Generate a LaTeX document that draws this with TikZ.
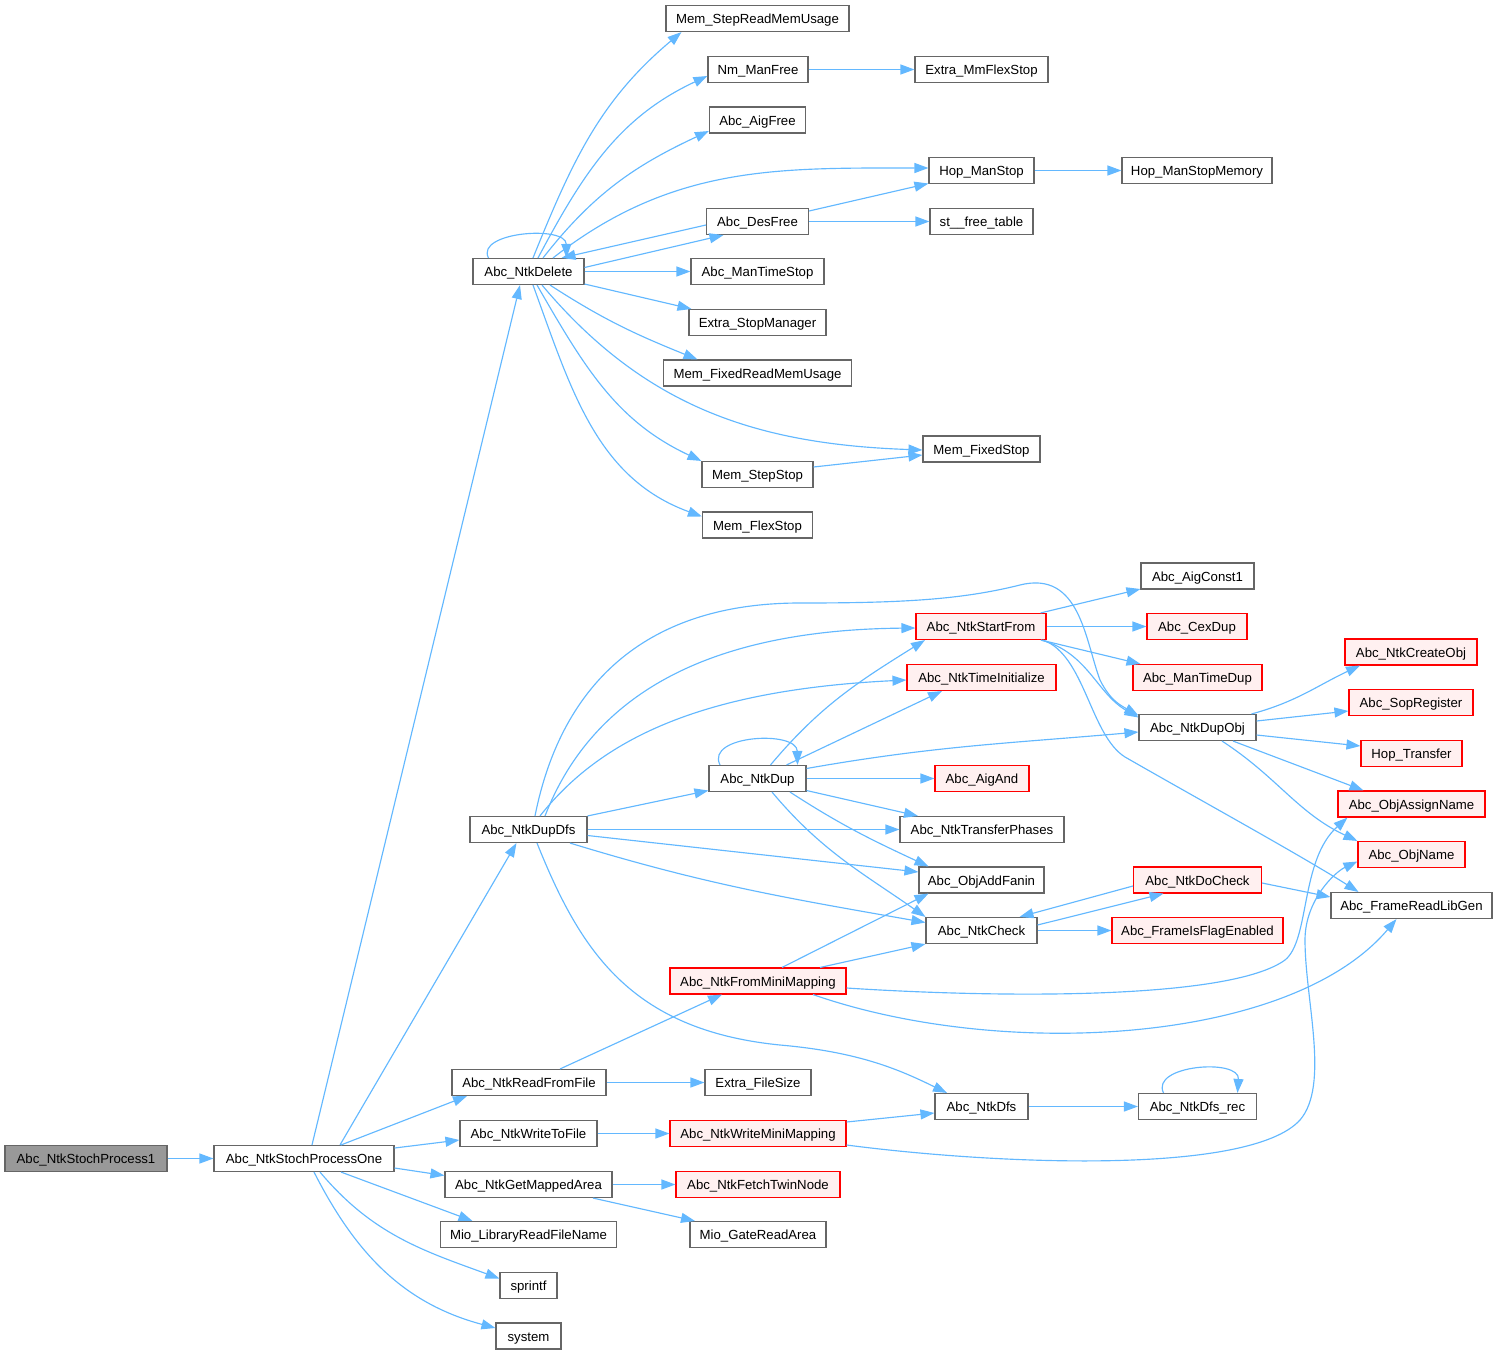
\documentclass[tikz,border=0pt]{standalone}
\usepackage{fontspec}
\setmainfont{Liberation Sans}
\usetikzlibrary{arrows.meta}
\definecolor{edgeblue}{HTML}{63B8FF}
\definecolor{nodegray}{HTML}{666666}
\definecolor{rootfill}{HTML}{999999}
\definecolor{redfill}{HTML}{FFF0F0}
\tikzset{
  nb/.style={draw=nodegray, fill=white, line width=1.1pt, rectangle, minimum height=26pt, inner sep=0pt,
    text height=10pt, text depth=0pt, font=\fontsize{13.2}{15}\selectfont},
  nr/.style={nb, draw=red, fill=redfill},
  nroot/.style={nb, fill=rootfill},
  e/.style={draw=edgeblue, line width=1.15pt, -{Triangle[length=14pt,width=10pt]}, edgeblue},
}
\begin{document}
\begin{tikzpicture}[x=1pt,y=1pt]
\useasboundingbox (0,0) rectangle (1497,-1355);
% ---------- upper group ----------
\node[nb, minimum width=183pt] (MSRMU) at (757.5,-18.5) {Mem\_StepReadMemUsage};
\node[nb, minimum width=100pt] (NmManFree) at (758,-69.5) {Nm\_ManFree};
\node[nb, minimum width=133pt] (MmFlexStop) at (981.5,-69.5) {Extra\_MmFlexStop};
\node[nb, minimum width=96pt] (AigFree) at (757.5,-120) {Abc\_AigFree};
\node[nb, minimum width=105pt] (HopManStop) at (981.5,-170.5) {Hop\_ManStop};
\node[nb, minimum width=150pt] (HopManStopMem) at (1197,-170.5) {Hop\_ManStopMemory};
\node[nb, minimum width=102pt] (DesFree) at (757.5,-221.5) {Abc\_DesFree};
\node[nb, minimum width=103pt] (stFree) at (981.5,-221.5) {st\_\_free\_table};
\node[nb, minimum width=111pt] (Delete) at (528.5,-271.5) {Abc\_NtkDelete};
\node[nb, minimum width=133pt] (ManTimeStop) at (757.5,-271.5) {Abc\_ManTimeStop};
\node[nb, minimum width=137pt] (StopManager) at (757.5,-322.5) {Extra\_StopManager};
\node[nb, minimum width=188pt] (MFRMU) at (757.5,-373) {Mem\_FixedReadMemUsage};
\node[nb, minimum width=117pt] (FixedStop) at (981.5,-449) {Mem\_FixedStop};
\node[nb, minimum width=111pt] (StepStop) at (757.5,-474.5) {Mem\_StepStop};
\node[nb, minimum width=110pt] (FlexStop) at (757.5,-525) {Mem\_FlexStop};
% ---------- lower group ----------
\node[nroot, minimum width=162pt] (Root) at (86,-1158.5) {Abc\_NtkStochProcess1};
\node[nb, minimum width=180pt] (SPOne) at (304,-1158.5) {Abc\_NtkStochProcessOne};
\node[nb, minimum width=154pt] (ReadFromFile) at (529,-1082.5) {Abc\_NtkReadFromFile};
\node[nb, minimum width=106pt] (FileSize) at (758,-1082.5) {Extra\_FileSize};
\node[nb, minimum width=137pt] (WriteToFile) at (528.5,-1133.5) {Abc\_NtkWriteToFile};
\node[nr, minimum width=176pt] (WMM) at (758,-1133.5) {Abc\_NtkWriteMiniMapping};
\node[nb, minimum width=167pt] (GetMappedArea) at (528.5,-1184.5) {Abc\_NtkGetMappedArea};
\node[nr, minimum width=164pt] (FetchTwin) at (758,-1184.5) {Abc\_NtkFetchTwinNode};
\node[nb, minimum width=176pt] (MioLib) at (528.5,-1234.5) {Mio\_LibraryReadFileName};
\node[nb, minimum width=136pt] (MioGate) at (758,-1234.5) {Mio\_GateReadArea};
\node[nb, minimum width=57pt] (sprintf) at (528.5,-1285.5) {sprintf};
\node[nb, minimum width=65pt] (system) at (528.5,-1336) {system};
\node[nb, minimum width=117pt] (DupDfs) at (528.5,-829.5) {Abc\_NtkDupDfs};
\node[nb, minimum width=97pt] (NtkDup) at (757.5,-778.5) {Abc\_NtkDup};
\node[nr, minimum width=130pt] (StartFrom) at (981,-626.5) {Abc\_NtkStartFrom};
\node[nr, minimum width=149pt] (TimeInit) at (981.5,-677.5) {Abc\_NtkTimeInitialize};
\node[nr, minimum width=94pt] (AigAnd) at (982,-778.5) {Abc\_AigAnd};
\node[nb, minimum width=164pt] (TransferPhases) at (982,-829.5) {Abc\_NtkTransferPhases};
\node[nb, minimum width=125pt] (ObjAddFanin) at (981.5,-880) {Abc\_ObjAddFanin};
\node[nb, minimum width=111pt] (NtkCheck) at (981.5,-930.5) {Abc\_NtkCheck};
\node[nr, minimum width=176pt] (FromMini) at (758,-981) {Abc\_NtkFromMiniMapping};
\node[nb, minimum width=93pt] (NtkDfs) at (981.5,-1106.5) {Abc\_NtkDfs};
\node[nb, minimum width=118pt] (DfsRec) at (1197.5,-1106.5) {Abc\_NtkDfs\_rec};
\node[nb, minimum width=113pt] (AigConst1) at (1197.5,-576) {Abc\_AigConst1};
\node[nr, minimum width=100pt] (CexDup) at (1197,-626.5) {Abc\_CexDup};
\node[nr, minimum width=129pt] (ManTimeDup) at (1197.5,-677.5) {Abc\_ManTimeDup};
\node[nb, minimum width=117pt] (DupObj) at (1197.5,-727.5) {Abc\_NtkDupObj};
\node[nr, minimum width=128pt] (DoCheck) at (1197.5,-880) {Abc\_NtkDoCheck};
\node[nr, minimum width=171pt] (FlagEnabled) at (1197.5,-930.5) {Abc\_FrameIsFlagEnabled};
\node[nr, minimum width=132pt] (CreateObj) at (1411,-652) {Abc\_NtkCreateObj};
\node[nr, minimum width=124pt] (SopRegister) at (1411,-702.5) {Abc\_SopRegister};
\node[nr, minimum width=101pt] (HopTransfer) at (1411.5,-753.5) {Hop\_Transfer};
\node[nr, minimum width=147pt] (ObjAssignName) at (1411.5,-804) {Abc\_ObjAssignName};
\node[nr, minimum width=107pt] (ObjName) at (1411.5,-854.5) {Abc\_ObjName};
\node[nb, minimum width=161pt] (ReadLibGen) at (1411.5,-905.5) {Abc\_FrameReadLibGen};
% ---------- edges: lower group ----------
\draw[e] (Root.east) -- (SPOne.west);
\draw[e] ([xshift=8pt]SPOne.north) -- ([xshift=-8.5pt]Delete.south);
\draw[e] ([xshift=36pt]SPOne.north) -- ([xshift=-12pt]DupDfs.south);
\draw[e] ([xshift=37pt]SPOne.north) -- ([xshift=-62pt]ReadFromFile.south);
\draw[e] ([yshift=10.5pt]SPOne.east) -- ([yshift=-6.5pt]WriteToFile.west);
\draw[e] ([yshift=-9.5pt]SPOne.east) -- ([yshift=9pt]GetMappedArea.west);
\draw[e] ([xshift=37pt]SPOne.south) -- ([xshift=-56pt]MioLib.north);
\draw[e] ([xshift=16pt]SPOne.south) to[out=-50,in=160] ([yshift=7pt]sprintf.west);
\draw[e] ([xshift=10pt]SPOne.south) to[out=-63,in=165] ([yshift=8pt]system.west);
\draw[e] (ReadFromFile.east) -- (FileSize.west);
\draw[e] ([xshift=31pt]ReadFromFile.north) -- ([xshift=-36pt]FromMini.south);
\draw[e] (WriteToFile.east) -- (WMM.west);
\draw[e] (GetMappedArea.east) -- (FetchTwin.west);
\draw[e] ([xshift=64.5pt]GetMappedArea.south) -- ([xshift=-63pt]MioGate.north);
\draw[e] ([yshift=11.5pt]WMM.east) -- ([yshift=-6.5pt]NtkDfs.west);
\draw[e] ([yshift=-11.5pt]WMM.east) .. controls (1000,-1165) and (1250,-1175) .. (1300,-1120)
  .. controls (1330,-1085) and (1305,-1000) .. (1305,-940)
  .. controls (1305,-900) and (1335,-872) .. ([yshift=-7pt]ObjName.west);
\draw[e] ([xshift=24pt]FromMini.north) -- ([xshift=-53pt]ObjAddFanin.south);
\draw[e] ([xshift=62pt]FromMini.north) -- (NtkCheck.south west);
\draw[e] ([yshift=-7pt]FromMini.east) .. controls (1000,-998) and (1230,-1000) .. (1285,-960)
  .. controls (1310,-940) and (1300,-860) .. ([xshift=-64pt]ObjAssignName.south);
\draw[e] ([xshift=55pt]FromMini.south) .. controls (1000,-1060) and (1290,-1045) .. ([xshift=-15pt]ReadLibGen.south);
% DupDfs
\draw[e] (DupDfs.north east) -- ([yshift=-12pt]NtkDup.west);
\draw[e] (DupDfs.east) -- (TransferPhases.west);
\draw[e] ([yshift=-6pt]DupDfs.east) -- ([yshift=8pt]ObjAddFanin.west);
\draw[e] ([xshift=41.5pt]DupDfs.south) to[out=-17,in=170] ([yshift=8pt]NtkCheck.west);
\draw[e] ([xshift=8.5pt]DupDfs.south) .. controls (580,-950) and (630,-1030) .. (780,-1045)
  .. controls (860,-1052) and (900,-1070) .. ([xshift=-34.5pt]NtkDfs.north);
\draw[e] ([xshift=16.5pt]DupDfs.north) .. controls (590,-700) and (700,-630) .. ([yshift=-1.5pt]StartFrom.west);
\draw[e] ([xshift=11.5pt]DupDfs.north) .. controls (600,-740) and (700,-690) .. ([yshift=-2.5pt]TimeInit.west);
\draw[e] ([xshift=6.5pt]DupDfs.north) .. controls (560,-690) and (640,-603) .. (800,-603)
  .. controls (900,-603) and (960,-600) .. (1020,-585)
  .. controls (1080,-570) and (1085,-640) .. (1100,-680)
  .. controls (1110,-700) and (1120,-705) .. ([yshift=12pt]DupObj.west);
% NtkDup
\draw[e] ([xshift=-37.5pt]NtkDup.north) .. controls (705,-735) and (797,-730) .. ([xshift=40pt]NtkDup.north);
\draw[e] ([xshift=13pt]NtkDup.north) to[out=50,in=212] ([xshift=-56pt]StartFrom.south);
\draw[e] ([xshift=29pt]NtkDup.north) -- ([xshift=-39.5pt]TimeInit.south);
\draw[e] ([yshift=10pt]NtkDup.east) to[out=10,in=185] ([yshift=-4.5pt]DupObj.west);
\draw[e] (NtkDup.east) -- (AigAnd.west);
\draw[e] ([yshift=-12pt]NtkDup.east) -- ([xshift=-64pt]TransferPhases.north);
\draw[e] ([xshift=32.5pt]NtkDup.south) to[out=-33,in=155] ([xshift=-53pt]ObjAddFanin.north);
\draw[e] ([xshift=14.5pt]NtkDup.south) to[out=-50,in=145] (NtkCheck.north west);
% StartFrom
\draw[e] ([xshift=-6pt]StartFrom.north east) -- ([yshift=-13pt]AigConst1.west);
\draw[e] (StartFrom.east) -- (CexDup.west);
\draw[e] ([xshift=60pt]StartFrom.south) -- ([xshift=-57pt]ManTimeDup.north);
\draw[e] ([xshift=60pt]StartFrom.south) to[out=-15,in=150] ([yshift=10pt]DupObj.west);
\draw[e] ([xshift=62pt]StartFrom.south) .. controls (1085,-655) and (1090,-735) .. (1125,-757)
  .. controls (1200,-800) and (1300,-855) .. ([xshift=-53pt]ReadLibGen.north);
% DupObj
\draw[e] ([xshift=54pt]DupObj.north) to[out=15,in=205] ([xshift=-51pt]CreateObj.south);
\draw[e] ([yshift=6.5pt]DupObj.east) -- ([yshift=-8.5pt]SopRegister.west);
\draw[e] ([yshift=-7.5pt]DupObj.east) -- ([yshift=7.5pt]HopTransfer.west);
\draw[e] ([xshift=35.5pt]DupObj.south) -- ([xshift=-48pt]ObjAssignName.north);
\draw[e] ([xshift=24.5pt]DupObj.south) to[out=-33,in=155] (ObjName.north west);
% NtkCheck / DoCheck
\draw[e] ([yshift=5.5pt]NtkCheck.east) -- ([xshift=-34pt]DoCheck.south);
\draw[e] ([yshift=-6pt]DoCheck.west) -- ([xshift=38pt]NtkCheck.north);
\draw[e] (NtkCheck.east) -- (FlagEnabled.west);
\draw[e] ([yshift=-3pt]DoCheck.east) -- ([yshift=8.5pt]ReadLibGen.west);
\draw[e] (NtkDfs.east) -- (DfsRec.west);
\draw[e] ([xshift=-34pt]DfsRec.north) .. controls (1150,-1065) and (1240,-1058) .. ([xshift=40pt]DfsRec.north);
% ---------- edges: upper group ----------
\draw[e] ([xshift=-40pt]Delete.north) .. controls (475,-232) and (566,-225) .. ([xshift=38pt]Delete.north);
\draw[e] ([yshift=-3.5pt]DesFree.west) -- ([xshift=33pt]Delete.north);
\draw[e] ([yshift=4pt]Delete.east) -- ([xshift=-34pt]DesFree.south);
\draw[e] (Delete.east) -- (ManTimeStop.west);
\draw[e] ([yshift=-12.5pt]Delete.east) -- ([xshift=-66pt]StopManager.north);
\draw[e] ([xshift=4.5pt]Delete.north) to[out=68,in=220] ([xshift=-76pt]MSRMU.south);
\draw[e] ([xshift=9.5pt]Delete.north) to[out=62,in=205] ([yshift=-6.5pt]NmManFree.west);
\draw[e] ([xshift=14.5pt]Delete.north) to[out=52,in=205] ([yshift=-11pt]AigFree.west);
\draw[e] ([xshift=24.5pt]Delete.north) to[out=38,in=180] ([yshift=2.5pt]HopManStop.west);
\draw[e] ([xshift=21.5pt]Delete.south) to[out=-33,in=158] ([xshift=-60pt]MFRMU.north);
\draw[e] ([xshift=13.5pt]Delete.south) to[out=-50,in=178] ([yshift=-1pt]FixedStop.west);
\draw[e] ([xshift=8.5pt]Delete.south) to[out=-60,in=155] (StepStop.north west);
\draw[e] ([xshift=4.5pt]Delete.south) to[out=-70,in=160] ([yshift=8.5pt]FlexStop.west);
\draw[e] (NmManFree.east) -- (MmFlexStop.west);
\draw[e] (HopManStop.east) -- (HopManStopMem.west);
\draw[e] ([yshift=10.5pt]DesFree.east) -- ([yshift=-13pt]HopManStop.west);
\draw[e] (DesFree.east) -- (stFree.west);
\draw[e] ([yshift=7.5pt]StepStop.east) -- ([yshift=-6pt]FixedStop.west);
\end{tikzpicture}
\end{document}
